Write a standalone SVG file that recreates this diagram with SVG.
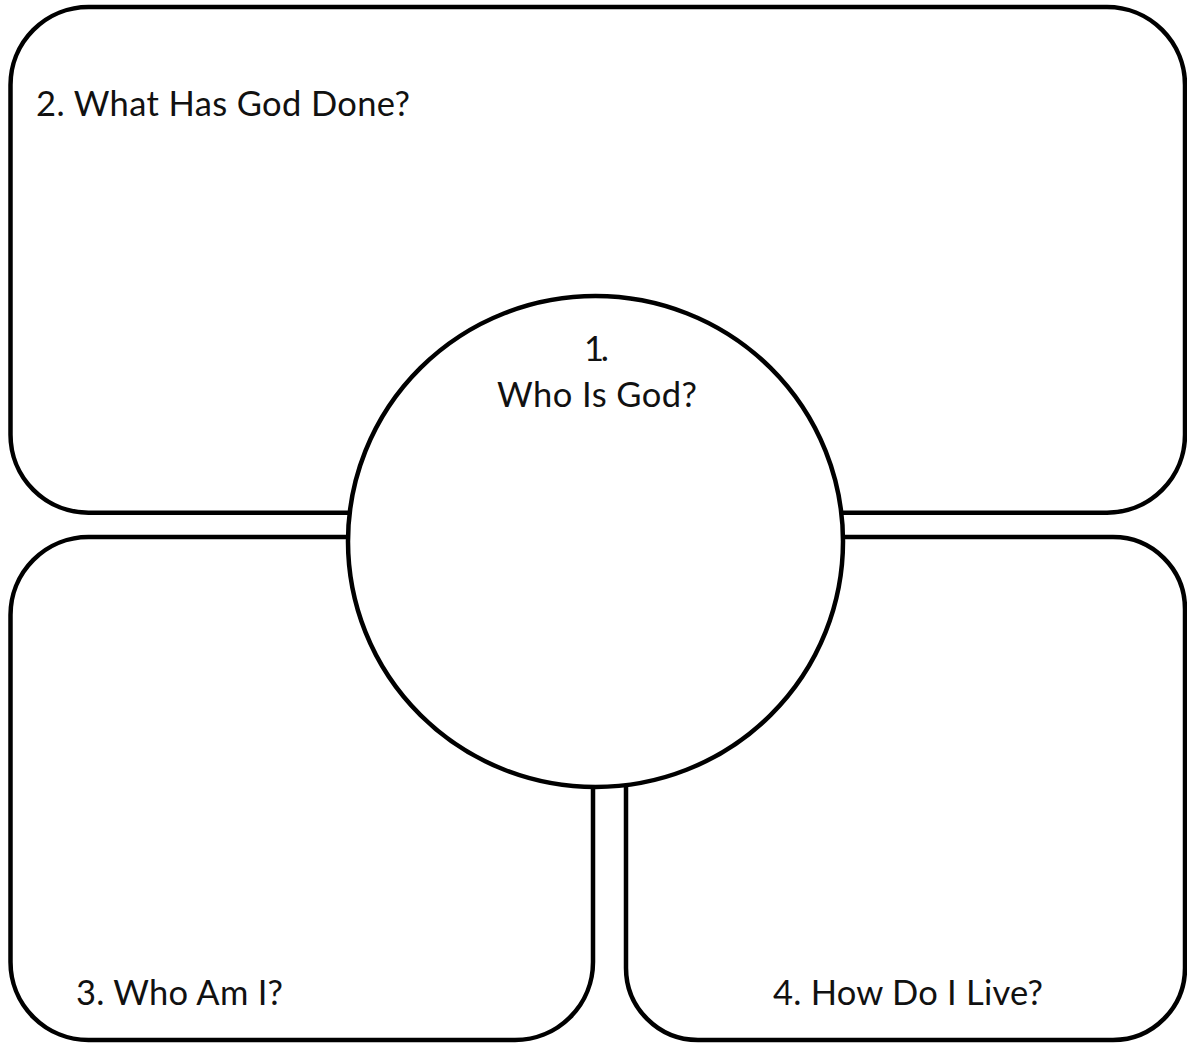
<svg xmlns="http://www.w3.org/2000/svg" width="1187" height="1044" viewBox="0 0 1187 1044">
<style>
.box{fill:#fff;stroke:#000;stroke-width:4.5}
.lbl{font-family:Lato,"Noto Sans","Liberation Sans",sans-serif;font-size:34.5px;fill:#111}
</style>
<rect width="1187" height="1044" fill="#fff"/>
<g id="box-what-has-god-done">
<rect class="box" x="10.5" y="7" width="1174.5" height="505.7" rx="78" ry="78"/>
<text class="lbl" x="36" y="116" textLength="374">2. What Has God Done?</text>
</g>
<g id="box-who-am-i">
<rect class="box" x="10.5" y="537" width="582.5" height="503" rx="78" ry="78"/>
<text class="lbl" x="76" y="1005" textLength="207">3. Who Am I?</text>
</g>
<g id="box-how-do-i-live">
<rect class="box" x="626" y="537" width="559" height="503" rx="72" ry="72"/>
<text class="lbl" x="773" y="1005" textLength="270">4. How Do I Live?</text>
</g>
<g id="circle-who-is-god">
<ellipse class="box" cx="595.5" cy="541.5" rx="247.5" ry="245.5"/>
<text class="lbl" x="584" y="361" textLength="25">1.</text>
<text class="lbl" x="497" y="407" textLength="200">Who Is God?</text>
</g>
</svg>
